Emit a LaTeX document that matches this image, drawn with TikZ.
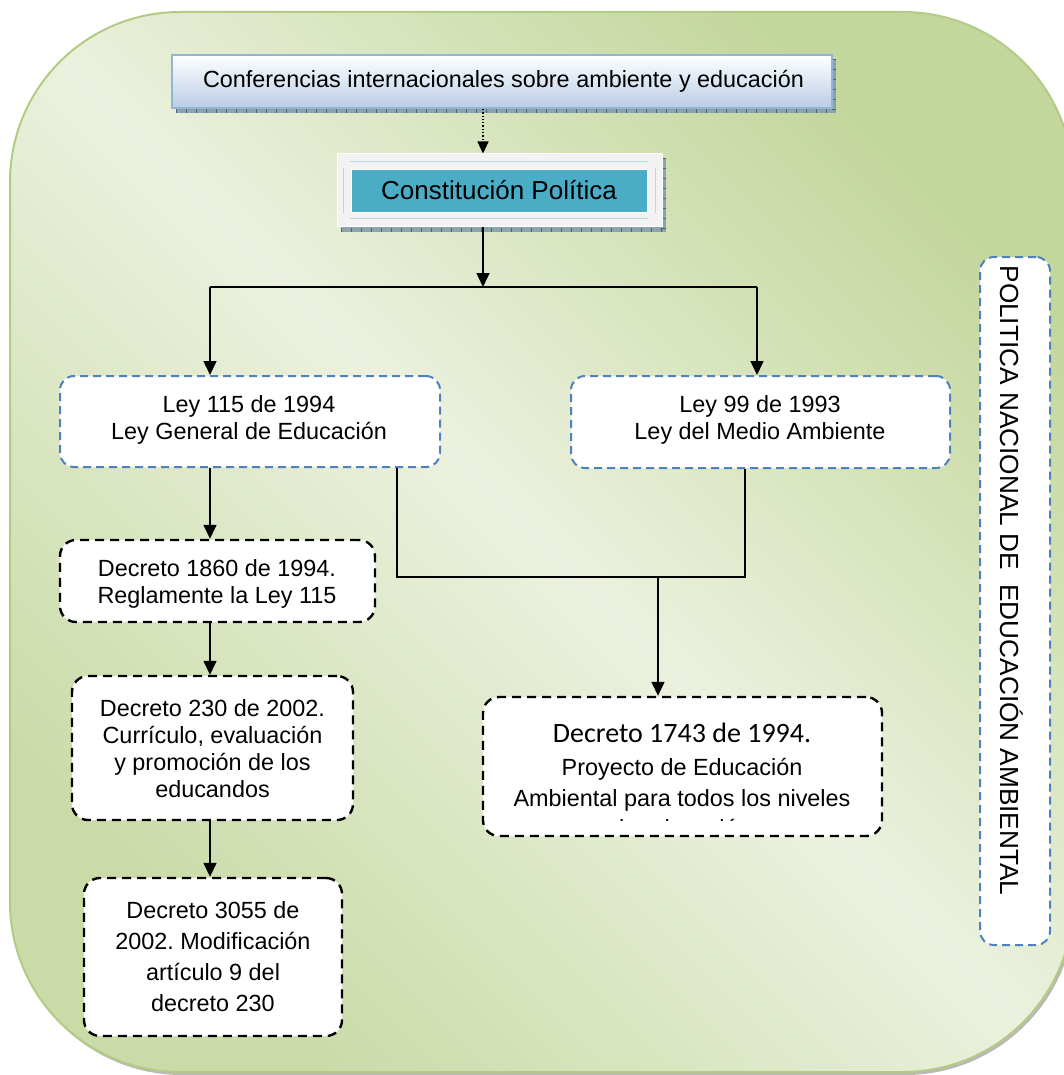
\documentclass[tikz,border=0pt]{standalone}
\usepackage{fontspec}
\setmainfont{Liberation Sans}
\newfontfamily\calibrifont{Carlito}
\usetikzlibrary{arrows.meta,calc}
\definecolor{olivedark}{HTML}{C3D69B}
\definecolor{olivemid}{HTML}{CADBA8}
\definecolor{olivelight}{HTML}{EBF1DE}
\definecolor{olivebord}{HTML}{B3CB84}
\definecolor{dashblue}{HTML}{4F81BD}
\definecolor{confblue}{HTML}{B9CDE5}
\definecolor{confbord}{HTML}{95B3D7}
\definecolor{tealc}{HTML}{4BACC6}
\definecolor{cpframe}{HTML}{F2F2F2}
\definecolor{cpline}{HTML}{B4D8E4}
\definecolor{shadowc}{HTML}{8CA3AB}
\definecolor{tickc}{HTML}{4A6470}
\frenchspacing
\begin{document}
\begin{tikzpicture}[x=1pt,y=-1pt,
  leybox/.style={draw=dashblue, line width=2pt, dash pattern=on 8pt off 5pt, rounded corners=14pt, fill=white, inner sep=0pt},
  decbox/.style={draw=black, line width=2.4pt, dash pattern=on 9pt off 6pt, rounded corners=16pt, fill=white, inner sep=0pt},
  txt/.style={align=center, inner sep=0pt, font=\fontsize{23.4}{27}\selectfont},
  conn/.style={line width=1.5pt, draw=black},
  arr/.style={conn, -{Triangle[length=14pt,width=13pt]}},
  shadowstrip/.style={fill=shadowc},
  ticks/.style={draw=tickc, line width=4pt, dash pattern=on 1pt off 9pt}
]
\useasboundingbox (0,0) rectangle (1063,1075);
% background panel
\fill[gray!55, rounded corners=170pt] (12,15) rectangle (1075,1075);
\shade[top color=olivedark, bottom color=olivemid, middle color=olivelight, shading angle=-45, rounded corners=170pt] (10,12) rectangle (1073,1072);
\draw[olivebord, line width=2pt, rounded corners=170pt] (10,12) rectangle (1073,1072);

% top box
\fill[shadowstrip] (176,59) rectangle (836,113);
\draw[ticks] (176,111) -- (836,111);
\draw[ticks] (834,59) -- (834,113);
\node[draw=confbord, line width=2pt, top color=white, bottom color=confblue, minimum width=660pt, minimum height=53pt, inner sep=0pt] (conf) at (502,81.5) {};
\node[txt] (conft) at (503.5,81) {Conferencias internacionales sobre ambiente y educación};

% constitucion
\fill[shadowstrip] (341,158) rectangle (666,232);
\draw[ticks] (341,230) -- (666,230);
\draw[ticks] (664,158) -- (664,232);
\node[draw=white, line width=1pt, fill=cpframe, minimum width=325pt, minimum height=73pt, inner sep=0pt] (cpo) at (499.5,190.5) {};
\draw[cpline, line width=1pt] (350,162) -- (648,162);
\draw[cpline, line width=1pt] (350,219) -- (648,219);
\draw[cpline, line width=1pt] (343,168) -- (343,213);
\draw[cpline, line width=1pt] (655,168) -- (655,213);
\node[fill=tealc, draw=white, line width=0.6pt, minimum width=296pt, minimum height=43pt, inner sep=0pt, font=\fontsize{26}{30}\selectfont] (cpi) at (499,190.5) {Constitución Política};

% coordinates for connectors
\coordinate (tx) at (483,0);
\coordinate (bus) at (483,287);
\coordinate (busL) at (210,287);
\coordinate (busR) at (757,287);
\coordinate (lx) at (210,0);
\coordinate (j1) at (397,577);
\coordinate (j2) at (745,577);
\coordinate (jm) at (658,577);

% leyes
\node[leybox, minimum width=380pt, minimum height=91pt] (ley115) at (250,421.5) {};
\node[txt] (ley115t) at (249,419.5) {Ley 115 de 1994\\Ley General de Educación};
\node[leybox, minimum width=379pt, minimum height=92pt] (ley99) at (760.5,422) {};
\node[txt] (ley99t) at (760,420) {Ley 99 de 1993\\Ley del Medio Ambiente};

% decretos left column
\node[decbox, minimum width=315pt, minimum height=82pt] (d1860) at (217.5,581) {};
\node[txt] (d1860t) at (217,584) {Decreto 1860 de 1994.\\Reglamente la Ley 115};
\node[decbox, minimum width=281pt, minimum height=144pt] (d230) at (212.5,748) {};
\node[txt] (d230t) at (212.5,748.5) {Decreto 230 de 2002.\\Currículo, evaluación\\y promoción de los\\educandos};
\node[decbox, minimum width=258pt, minimum height=158pt] (d3055) at (213,957) {};
\node[txt, font=\fontsize{23.4}{31}\selectfont] (d3055t) at (213,956.5) {Decreto 3055 de\\2002. Modificación\\artículo 9 del\\decreto 230};

% decreto 1743
\node[decbox, minimum width=399pt, minimum height=139pt] (d1743) at (682.5,766.5) {};
\node[inner sep=0pt, font=\calibrifont\fontsize{28}{32}\selectfont] (d1743a) at (682,733) {Decreto 1743 de 1994.};
\node[txt] (d1743b) at (682,769) {Proyecto de Educación};
\node[txt] (d1743c) at (682,800) {Ambiental para todos los niveles};
\begin{scope}
\clip (485,699) rectangle (880,820);
\node[inner sep=0pt, anchor=base, font=\fontsize{23.4}{27}\selectfont] (d1743d) at (681,836) {de educación};
\end{scope}

% politica
\node[leybox, minimum width=70pt, minimum height=688pt] (pol) at (1015,601) {};
\node[inner sep=0pt, rotate=-90, font=\fontsize{26.2}{29}\selectfont] (polt) at (1012,580.5) {POLITICA NACIONAL DE \ EDUCACIÓN AMBIENTAL};

% connectors
\draw[dotted, line width=1.3pt, -{Triangle[length=12pt,width=11pt]}] (conf.south -| tx) -- (cpo.north -| tx);
\draw[arr] (cpo.south -| tx) -- (bus);
\draw[conn] (busL) -- (busR);
\draw[arr] (busL) -- (ley115.north -| busL);
\draw[arr] (busR) -- (ley99.north -| busR);
\draw[arr] (ley115.south -| lx) -- (d1860.north -| lx);
\draw[arr] (d1860.south -| lx) -- (d230.north -| lx);
\draw[arr] (d230.south -| lx) -- (d3055.north -| lx);
\draw[conn] (ley115.south -| j1) -- (j1) -- (j2) -- (ley99.south -| j2);
\draw[arr] (jm) -- (d1743.north -| jm);
\end{tikzpicture}
\end{document}
